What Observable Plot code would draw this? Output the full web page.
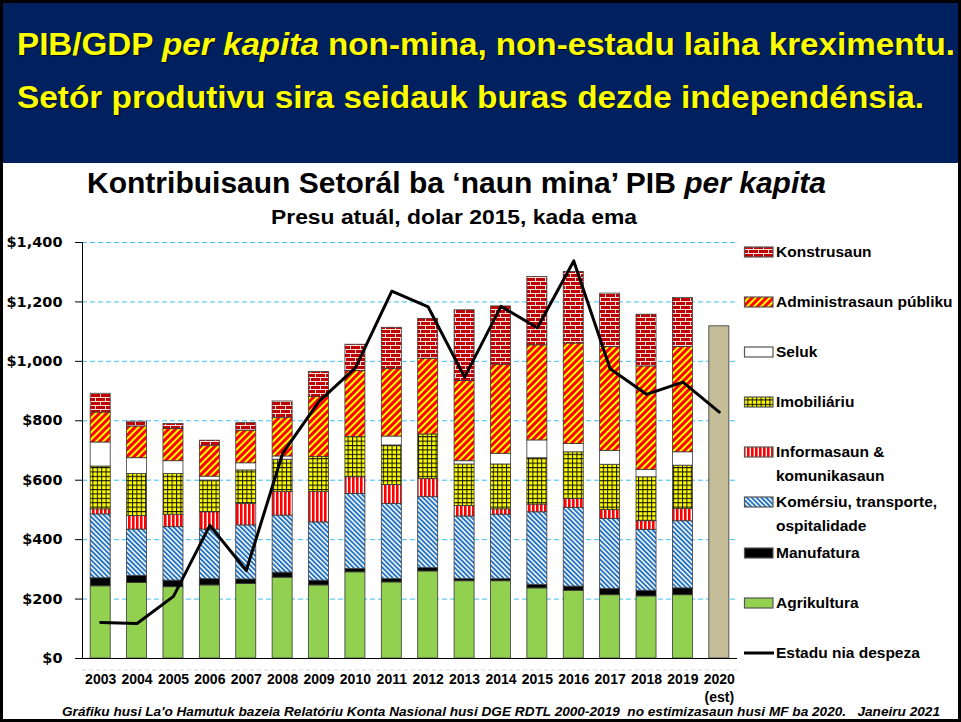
<!DOCTYPE html>
<html><head><meta charset="utf-8">
<script src="https://cdn.jsdelivr.net/npm/d3@7"></script>
<script src="https://cdn.jsdelivr.net/npm/@observablehq/plot@0.6"></script>
<style>
html,body{margin:0;padding:0;background:#fff;}
#frame{position:relative;width:961px;height:722px;overflow:hidden;background:#fff;}
#border{position:absolute;left:0;top:0;width:961px;height:722px;box-sizing:border-box;border:3px solid #000;pointer-events:none;z-index:10}
#header{position:absolute;left:0;top:0;width:961px;height:163px;background:#002060;}
.t{position:absolute;white-space:nowrap;line-height:1;transform-origin:0 0;font-family:"Liberation Sans",Arial,sans-serif;}
#chart{position:absolute;left:0;top:225px;}
#chart svg g[aria-label="y-axis tick label"]{font-family:"DejaVu Sans",sans-serif;font-size:14.5px;font-weight:bold;}
#chart svg g[aria-label="x-axis tick label"]{font-family:"Liberation Sans",Arial,sans-serif;font-size:14px;font-weight:bold;}
.leg{position:absolute;white-space:nowrap;font-family:"Liberation Sans",Arial,sans-serif;font-weight:bold;font-size:15.5px;line-height:1;color:#000;}
.sw{position:absolute;}
</style>
</head><body>
<svg width="0" height="0" style="position:absolute">
 <defs>
  <pattern id="pKon" patternUnits="userSpaceOnUse" width="10" height="8">
   <rect width="10" height="8" fill="#c00000"/>
   <rect y="0" width="10" height="1" fill="#fbe0e0"/>
   <rect y="4" width="10" height="1" fill="#fbe0e0"/>
   <rect x="0" y="0" width="1" height="4" fill="#fbe0e0"/>
   <rect x="5" y="4" width="1" height="4" fill="#fbe0e0"/>
  </pattern>
  <pattern id="pAdm" patternUnits="userSpaceOnUse" width="5" height="5" patternTransform="rotate(45)">
   <rect width="5" height="5" fill="#ff0000"/>
   <rect width="2" height="5" fill="#ffff00"/>
  </pattern>
  <pattern id="pImo" patternUnits="userSpaceOnUse" width="4.4" height="4.4">
   <rect width="4.4" height="4.4" fill="#ffff00"/>
   <path d="M0 0.5H4.4M0.5 0V4.4" stroke="#111" stroke-width="1"/>
  </pattern>
  <pattern id="pInf" patternUnits="userSpaceOnUse" width="4" height="4">
   <rect width="4" height="4" fill="#ffffff"/>
   <rect width="2.6" height="4" fill="#ff0000"/>
  </pattern>
  <pattern id="pKom" patternUnits="userSpaceOnUse" width="3.4" height="3.4" patternTransform="rotate(-45)">
   <rect width="3.4" height="3.4" fill="#ffffff"/>
   <rect width="1.9" height="3.4" fill="#2272c3"/>
  </pattern>
 </defs>
</svg>
<div id="frame">
 <div id="header"></div>
 <div id="chart"></div>
 <div id="legend"></div>
 <div id="texts"></div>
 <div id="border"></div>
</div>
<script>
// ---------------- DATA ----------------
const years = [2003,2004,2005,2006,2007,2008,2009,2010,2011,2012,2013,2014,2015,2016,2017,2018,2019];
const agrikultura   = [243,254,240,246,251,272,246,290,256,293,260,260,236,228,213,209,213];
const manufatura    = [27,24,22,21,15,17,16,11,11,11,7,7,12,14,21,19,23];
const komersiu      = [215,156,180,167,182,192,196,253,253,239,211,217,244,265,236,205,226];
const informasaun   = [17,46,42,58,72,79,102,56,64,61,35,18,26,30,30,29,41];
const imobiliariu   = [144,141,137,107,113,109,118,135,133,150,140,151,156,157,152,148,146];
const seluk         = [81,53,43,13,24,11,0,0,30,0,11,36,60,28,46,25,45];
const administrasaun= [101,107,109,104,110,130,202,222,228,255,270,300,320,338,350,348,354];
const konstrusaun   = [63,16,16,17,25,55,84,89,138,134,238,196,230,241,180,174,165];
const estimateYear = 2020;
const estimate2020 = 1118;
const despezaYears = [2003,2004,2005,2006,2007,2008,2009,2010,2011,2012,2013,2014,2015,2016,2017,2018,2019,2020];
const estaduDespeza = [121,118,209,448,296,690,865,978,1236,1183,947,1185,1113,1338,975,889,930,829];
const yTicks = [0,200,400,600,800,1000,1200,1400];
const sectorNames = ["Agrikultura","Manufatura","Komérsiu, transporte, ospitalidade","Informasaun & komunikasaun","Imobiliáriu","Seluk","Administrasaun públiku","Konstrusaun"];
const sectorSeries = [agrikultura,manufatura,komersiu,informasaun,imobiliariu,seluk,administrasaun,konstrusaun];
const sectorFills = ["#92d050","#000000","url(#pKom)","url(#pInf)","url(#pImo)","#ffffff","url(#pAdm)","url(#pKon)"];
const estimateFill = "#c4bd97";

// ---------------- stacked rows ----------------
const half = 0.275;
const stackRows = sectorNames.map(() => []);
years.forEach((yr, j) => {
  let acc = 0;
  sectorSeries.forEach((ser, i) => {
    const v = ser[j];
    stackRows[i].push({year: yr, y1: acc, y2: acc + v});
    acc += v;
  });
});
const estRows = [{year: estimateYear, y1: 0, y2: estimate2020}];
const lineRows = despezaYears.map((yr, i) => ({year: yr, value: estaduDespeza[i]}));
const xDomain = [years[0] - 0.5, estimateYear + 0.5];

const marks = [
  Plot.ruleY(yTicks.filter(d => d > 0), {stroke: "#3ec1f0", strokeDasharray: "5,3", strokeWidth: 1}),
  Plot.ruleY([0], {dy: 11.5, stroke: "#d5d5d5", strokeDasharray: "4,3"}),
  ...stackRows.map((rows, i) => Plot.rect(rows, {
    x1: d => d.year - half, x2: d => d.year + half, y1: "y1", y2: "y2",
    fill: sectorFills[i], stroke: "#3a3a3a", strokeWidth: 0.8
  })),
  Plot.rect(estRows, {x1: d => d.year - half, x2: d => d.year + half, y1: "y1", y2: "y2",
    fill: estimateFill, stroke: "#555", strokeWidth: 1}),
  Plot.line(lineRows, {x: "year", y: "value", stroke: "#000", strokeWidth: 3}),
  Plot.ruleX([xDomain[0]], {y1: yTicks[0], y2: yTicks[yTicks.length-1], stroke: "#000", strokeWidth: 1}),
  Plot.ruleY([0], {stroke: "#000", strokeWidth: 1}),
  Plot.axisY({ticks: yTicks, tickFormat: d => "$" + d3.format(",")(d), tickSize: 7, tickPadding: 13, stroke: "#000", color: "#000", label: null}),
  Plot.axisX({ticks: despezaYears, tickFormat: d => d === estimateYear ? d + "\n(est)" : String(d), tickSize: 0, tickPadding: 13.5, lineHeight: 1.25, color: "#000", label: null})
];

const chart = Plot.plot({
  width: 740, height: 478,
  marginLeft: 82, marginRight: 3, marginTop: 17, marginBottom: 45,
  style: {background: "transparent", color: "#000", overflow: "visible"},
  x: {type: "linear", domain: xDomain, label: null},
  y: {domain: [yTicks[0], yTicks[yTicks.length-1]], nice: false, label: null},
  marks
});
document.getElementById("chart").appendChild(chart);

// ---------------- legend ----------------
const legendItems = [
  {fill: "url(#pKon)", lines: ["Konstrusaun"], cy: 252},
  {fill: "url(#pAdm)", lines: ["Administrasaun públiku"], cy: 302},
  {fill: "#ffffff", lines: ["Seluk"], cy: 352},
  {fill: "url(#pImo)", lines: ["Imobiliáriu"], cy: 402},
  {fill: "url(#pInf)", lines: ["Informasaun &", "komunikasaun"], cy: 452},
  {fill: "url(#pKom)", lines: ["Komérsiu, transporte,", "ospitalidade"], cy: 502},
  {fill: "#000000", lines: ["Manufatura"], cy: 553},
  {fill: "#92d050", lines: ["Agrikultura"], cy: 603},
  {line: true, lines: ["Estadu nia despeza"], cy: 653}
];
const leg = document.getElementById("legend");
const NS = "http://www.w3.org/2000/svg";
legendItems.forEach(it => {
  const s = document.createElementNS(NS, "svg");
  s.setAttribute("class", "sw");
  s.setAttribute("width", 32); s.setAttribute("height", 14);
  s.style.left = "743px"; s.style.top = (it.cy - 7) + "px";
  if (it.line) {
    const l = document.createElementNS(NS, "line");
    l.setAttribute("x1", 1); l.setAttribute("x2", 31); l.setAttribute("y1", 7); l.setAttribute("y2", 7);
    l.setAttribute("stroke", "#000"); l.setAttribute("stroke-width", 3);
    s.appendChild(l);
  } else {
    const r = document.createElementNS(NS, "rect");
    r.setAttribute("x", 1.5); r.setAttribute("y", 2); r.setAttribute("width", 28.5); r.setAttribute("height", 10);
    r.setAttribute("fill", it.fill); r.setAttribute("stroke", "#555"); r.setAttribute("stroke-width", 1.2);
    s.appendChild(r);
  }
  leg.appendChild(s);
  it.lines.forEach((txt, k) => {
    const d = document.createElement("div");
    d.className = "leg";
    d.textContent = txt;
    d.style.left = "776px";
    d.style.top = (it.cy + k * 24 - 0.489 * 15.5) + "px";
    leg.appendChild(d);
  });
});

// ---------------- texts fitted to the reference width ----------------
const texts = [
  {html: "PIB/GDP <i>per kapita</i> non-mina, non-estadu laiha kreximentu.", left: 17, right: 955, base: 55, size: 32, color: "#ffff00", weight: "bold", shadow: true},
  {html: "Setór produtivu sira seidauk buras dezde independénsia.", left: 17, right: 924, base: 108, size: 32, color: "#ffff00", weight: "bold", shadow: true},
  {html: "Kontribuisaun Setorál ba ‘naun mina’ PIB <i>per kapita</i>", left: 87, right: 826, base: 193, size: 30, color: "#000", weight: "bold"},
  {html: "Presu atuál, dolar 2015, kada ema", left: 271, right: 637, base: 225, size: 19.5, color: "#000", weight: "bold"},
  {html: "<i>Gráfiku husi La'o Hamutuk bazeia Relatóriu Konta Nasional husi DGE RDTL 2000-2019&nbsp;&nbsp;no estimizasaun husi MF ba 2020.&nbsp;&nbsp;&nbsp;Janeiru 2021</i>", left: 62, right: 940, base: 717, size: 12.5, color: "#000", weight: "bold"}
];
const tc = document.getElementById("texts");
texts.forEach(t => {
  const d = document.createElement("div");
  d.className = "t";
  d.innerHTML = t.html;
  d.style.fontSize = t.size + "px";
  d.style.fontWeight = t.weight;
  d.style.color = t.color;
  if (t.shadow) d.style.textShadow = "1px 1px 1px rgba(0,0,0,0.7)";
  d.style.left = t.left + "px";
  d.style.top = (t.base - 0.8465 * t.size) + "px";
  tc.appendChild(d);
  const w = d.getBoundingClientRect().width;
  d.style.transform = "scaleX(" + ((t.right - t.left) / w) + ")";
});
</script>
</body></html>
